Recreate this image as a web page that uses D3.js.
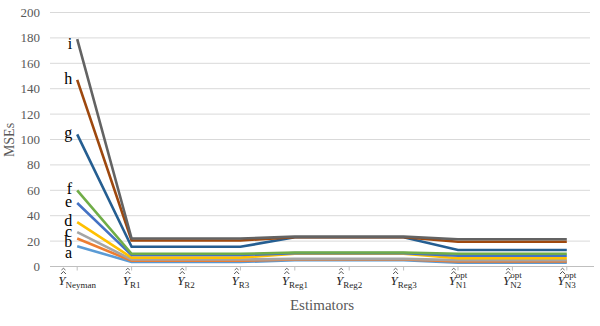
<!DOCTYPE html>
<html><head><meta charset="utf-8">
<script src="https://cdn.jsdelivr.net/npm/d3@7"></script>
<style>body{margin:0;background:#fff}svg{display:block}</style>
</head><body>
<svg id="c" width="600" height="326"></svg>
<script>
const categories = ["Neyman","R1","R2","R3","Reg1","Reg2","Reg3","N1","N2","N3"];
const catSup = ["","","","","","","","opt","opt","opt"];
const seriesNames = ["a","b","c","d","e","f","g","h","i"];
const sA = [16, 3.5, 3.5, 3.5, 5, 5, 5, 3, 3, 3];
const sB = [22, 4.5, 4.5, 4.5, 5.5, 5.5, 5.5, 4, 4, 4];
const sC = [27, 5.5, 5.5, 5.5, 6, 6, 6, 5, 5, 5];
const sD = [35, 7, 7, 7, 10, 10, 10, 6.5, 6.5, 6.5];
const sE = [50, 9, 9, 9, 10.5, 10.5, 10.5, 8.5, 8.5, 8.5];
const sF = [60, 10, 10, 10, 11, 11, 11, 10, 10, 10];
const sG = [104, 15.5, 15.5, 15.5, 23, 23, 23, 13, 13, 13];
const sH = [147, 20.5, 20.5, 20.5, 23, 23, 23, 19.5, 19.5, 19.5];
const sI = [179, 22, 22, 22, 23.5, 23.5, 23.5, 21.5, 21.5, 21.5];
const yTicks = [0,20,40,60,80,100,120,140,160,180,200];
const colors = ["#5B9BD5","#ED7D31","#A5A5A5","#FFC000","#4472C4","#70AD47","#255E91","#9E480E","#636363"];
const series = [sA,sB,sC,sD,sE,sF,sG,sH,sI];

const svg = d3.select("#c");
const L = 50, R = 594, T = 12.5, B = 266.5;
const x = d3.scalePoint().domain(categories).range([L, R]).padding(0.5);
const y = d3.scaleLinear().domain([0,200]).range([B, T]);
const serif = "'Liberation Serif','Times New Roman',serif";

svg.append("g").selectAll("line").data(yTicks.filter(d=>d>0)).join("line")
  .attr("x1", L).attr("x2", 590).attr("y1", d=>y(d)).attr("y2", d=>y(d))
  .attr("stroke", "#d9d9d9").attr("stroke-width", 1);
svg.append("g").selectAll("text").data(yTicks).join("text")
  .attr("x", 40).attr("y", d=>y(d)).attr("dy","0.35em").attr("text-anchor","end")
  .attr("font-family", serif).attr("font-size", 13).attr("fill","#595959").text(d=>d);
svg.append("line").attr("x1", L).attr("x2", R).attr("y1", B).attr("y2", B)
  .attr("stroke","#bfbfbf").attr("stroke-width",1);
svg.append("g").selectAll("line").data(categories).join("line")
  .attr("x1", d=>x(d)).attr("x2", d=>x(d)).attr("y1", B).attr("y2", B+4)
  .attr("stroke","#bfbfbf");

const line = d3.line().x((d,i)=>x(categories[i])).y(d=>y(d));
svg.append("g").selectAll("path").data(series).join("path")
  .attr("d", line).attr("fill","none").attr("stroke",(d,i)=>colors[i])
  .attr("stroke-width",2.6).attr("stroke-linejoin","miter");

// series letter labels, spread so they don't collide
const base = series.map(s => y(s[0]) + 4);
base[8] = y(sI[0]) + 10;
for (let k = 4; k >= 0; k--) { if (base[k] < base[k+1] + 10.5) base[k] = base[k+1] + 10.5; }
svg.append("g").selectAll("text").data(seriesNames).join("text")
  .attr("x", x(categories[0]) - 5).attr("y", (d,i)=>base[i]).attr("text-anchor","end")
  .attr("font-family", serif).attr("font-size", 16).attr("fill","#000").text(d=>d);

const cl = svg.append("g").selectAll("g").data(categories).join("g")
  .attr("transform", d=>`translate(${x(d)},0)`);
cl.each(function(d,i){
  const g = d3.select(this);
  const t = g.append("text").attr("y", 285).attr("font-family", serif).attr("fill","#262626");
  const yT = t.append("tspan").attr("font-style","italic").attr("font-size",13).text("Y");
  let supT = null;
  if (catSup[i]) supT = t.append("tspan").attr("font-size",9).attr("dy",-7).text(catSup[i]);
  const sub = t.append("tspan").attr("font-size",9).text(d);
  const yW = yT.node().getComputedTextLength();
  let tot;
  if (supT) {
    const supW = supT.node().getComputedTextLength();
    sub.attr("dx", -supW).attr("dy", 10);
    tot = yW + Math.max(supW, sub.node().getComputedTextLength());
  } else {
    sub.attr("dy", 3);
    tot = t.node().getComputedTextLength();
  }
  const x0 = -tot/2;
  t.attr("x", x0);
  const cx = x0 + yW/2 + 1.5;
  g.append("path").attr("d", `M${cx-2.5},${274} L${cx},${271.5} L${cx+2.5},${274}`)
    .attr("fill","none").attr("stroke","#262626").attr("stroke-width",0.8);
  g.append("path").attr("d", `M${cx-2},${270} L${cx},${268.3} L${cx+2},${270}`)
    .attr("fill","none").attr("stroke","#262626").attr("stroke-width",0.7);
});

svg.append("text").attr("x", 322).attr("y", 310).attr("text-anchor","middle")
  .attr("font-family", serif).attr("font-size", 15).attr("fill","#595959").text("Estimators");
svg.append("text").attr("transform","translate(14,140) rotate(-90)").attr("text-anchor","middle")
  .attr("font-family", serif).attr("font-size", 14).attr("fill","#595959").text("MSEs");
</script>
</body></html>
